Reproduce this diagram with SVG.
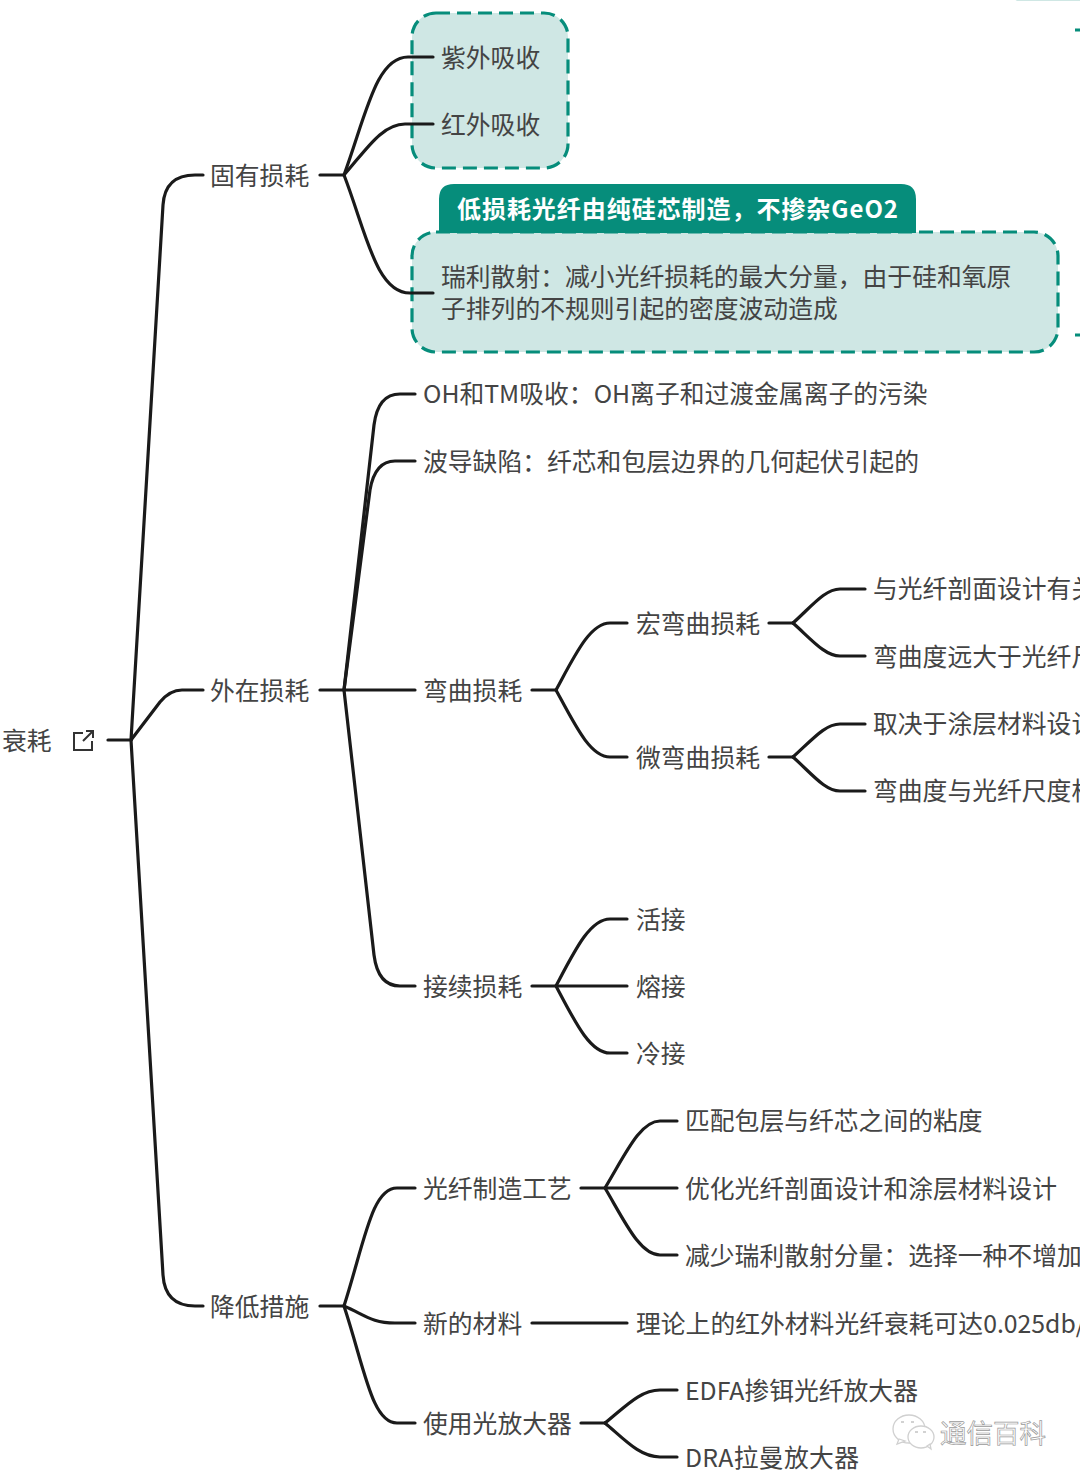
<svg xmlns="http://www.w3.org/2000/svg" width="1080" height="1474" viewBox="0 0 1080 1474">
<style>
text{font-family:"Noto Sans CJK SC","Noto Sans",sans-serif;font-size:24.8px;fill:#444;font-weight:400}
.b{fill:#cfe7e4;stroke:#068d7b;stroke-width:3.2;stroke-dasharray:14 7}
.c{fill:none;stroke:#1a1a1a;stroke-width:3.2;stroke-linecap:round;stroke-linejoin:round}
.tag{font-size:24px;font-weight:700;fill:#fff}
.wm{font-size:26.5px;fill:#fff;stroke:#9a9a9a;stroke-width:.7}
.w{fill:#fff;stroke:#d0d0d0;stroke-width:1.3}
</style>
<rect width="1080" height="1474" fill="#fff"/>
<g id="offscreen">
<rect x="1015" y="-6" width="80" height="7" rx="3" fill="#cfe7e4"/>
<path d="M1075 30H1080M1075 335H1080" fill="none" stroke="#068d7b" stroke-width="3"/>
</g>
<g id="box-absorb"><rect class="b" x="412" y="13" width="156" height="155" rx="24"/></g>
<g id="box-rayleigh">
<rect class="b" x="412" y="232" width="646" height="120" rx="24"/>
<path d="M439 233V199Q439 184 454 184H901Q916 184 916 199V233Z" fill="#068d7b"/>
<text class="tag" x="457" y="218" textLength="441">低损耗光纤由纯硅芯制造，不掺杂GeO2</text>
</g>
<g id="connectors" class="c">
<path d="M108 740H131"/>
<path d="M131 740L163 205Q165 175 195 175H203"/>
<path d="M131 740L160 702Q170 690 182 690H203"/>
<path d="M131 740L163 1275Q165 1306 195 1306H203"/>
<path d="M320 175H344"/>
<path d="M344 175C366 115 376 57 408 57H433"/>
<path d="M344 175C366 150 382 124 405 124H433"/>
<path d="M344 175C366 232 376 293 410 293H433"/>
<path d="M320 690H415"/>
<path d="M344 690L374 425Q378 394 400 394H415"/>
<path d="M344 690L370 490Q375 461 395 461H415"/>
<path d="M344 690L374 955Q378 986 400 986H415"/>
<path d="M532 690H556"/>
<path d="M556 690C575 655 590 623 610 623H627"/>
<path d="M556 690C575 725 590 757 610 757H627"/>
<path d="M769 623H793"/>
<path d="M793 623C812 606 825 589 840 589H865"/>
<path d="M793 623C812 640 825 656 840 656H865"/>
<path d="M769 757H793"/>
<path d="M793 757C812 740 825 724 840 724H865"/>
<path d="M793 757C812 774 825 791 840 791H865"/>
<path d="M532 986H627"/>
<path d="M556 986C575 950 590 919 610 919H627"/>
<path d="M556 986C575 1022 590 1053 610 1053H627"/>
<path d="M320 1306H344"/>
<path d="M344 1306C365 1240 372 1188 397 1188H415"/>
<path d="M344 1306C365 1315 372 1323 395 1323H415"/>
<path d="M344 1306C365 1370 372 1423 397 1423H415"/>
<path d="M581 1188H677"/>
<path d="M605 1188C625 1155 640 1121 660 1121H677"/>
<path d="M605 1188C625 1222 640 1255 660 1255H677"/>
<path d="M532 1323H627"/>
<path d="M581 1423H605"/>
<path d="M605 1423C625 1407 640 1390 660 1390H677"/>
<path d="M605 1423C625 1440 640 1457 660 1457H677"/>
</g>
<g id="root"><text x="2" y="750">衰耗</text>
<path d="M83 733H74V750H92V741M83 741L92 732M86 731H93V738" fill="none" stroke="#333" stroke-width="2"/></g>
<g id="n1"><text x="210" y="185">固有损耗</text></g>
<g id="n2"><text x="210" y="700">外在损耗</text></g>
<g id="n3"><text x="210" y="1316">降低措施</text></g>
<g id="n11"><text x="441" y="67">紫外吸收</text></g>
<g id="n12"><text x="441" y="134">红外吸收</text></g>
<g id="n13"><text x="441" y="286">瑞利散射：减小光纤损耗的最大分量，由于硅和氧原</text><text x="441" y="318">子排列的不规则引起的密度波动造成</text></g>
<g id="n21"><text x="423" y="403">OH和TM吸收：OH离子和过渡金属离子的污染</text></g>
<g id="n22"><text x="423" y="471">波导缺陷：纤芯和包层边界的几何起伏引起的</text></g>
<g id="n23"><text x="423" y="700">弯曲损耗</text></g>
<g id="n231"><text x="636" y="633">宏弯曲损耗</text></g>
<g id="n232"><text x="636" y="767">微弯曲损耗</text></g>
<g id="n2311"><text x="873" y="598">与光纤剖面设计有关</text></g>
<g id="n2312"><text x="873" y="666">弯曲度远大于光纤尺寸</text></g>
<g id="n2321"><text x="873" y="733">取决于涂层材料设计</text></g>
<g id="n2322"><text x="873" y="800">弯曲度与光纤尺度相近</text></g>
<g id="n24"><text x="423" y="996">接续损耗</text></g>
<g id="n241"><text x="636" y="929">活接</text></g>
<g id="n242"><text x="636" y="996">熔接</text></g>
<g id="n243"><text x="636" y="1063">冷接</text></g>
<g id="n31"><text x="423" y="1198">光纤制造工艺</text></g>
<g id="n311"><text x="685" y="1130">匹配包层与纤芯之间的粘度</text></g>
<g id="n312"><text x="685" y="1198">优化光纤剖面设计和涂层材料设计</text></g>
<g id="n313"><text x="685" y="1265">减少瑞利散射分量：选择一种不增加</text></g>
<g id="n32"><text x="423" y="1333">新的材料</text></g>
<g id="n321"><text x="636" y="1333">理论上的红外材料光纤衰耗可达0.025db/km</text></g>
<g id="n33"><text x="423" y="1433">使用光放大器</text></g>
<g id="n331"><text x="685" y="1400">EDFA掺铒光纤放大器</text></g>
<g id="n332"><text x="685" y="1467" textLength="174">DRA拉曼放大器</text></g>
<g id="watermark">
<ellipse class="w" cx="909" cy="1429" rx="16" ry="14"/>
<path class="w" d="M899 1439L897 1444L905 1441Z"/>
<ellipse class="w" cx="921" cy="1437" rx="13" ry="11"/>
<path class="w" d="M927 1446L931 1449L930 1444Z"/>
<path d="M901 1422h3M911 1422h3M915 1432h3M923 1432h3" fill="none" stroke="#c4c4c4" stroke-width="1.4"/>
<text class="wm" x="940" y="1443">通信百科</text>
</g>
</svg>
